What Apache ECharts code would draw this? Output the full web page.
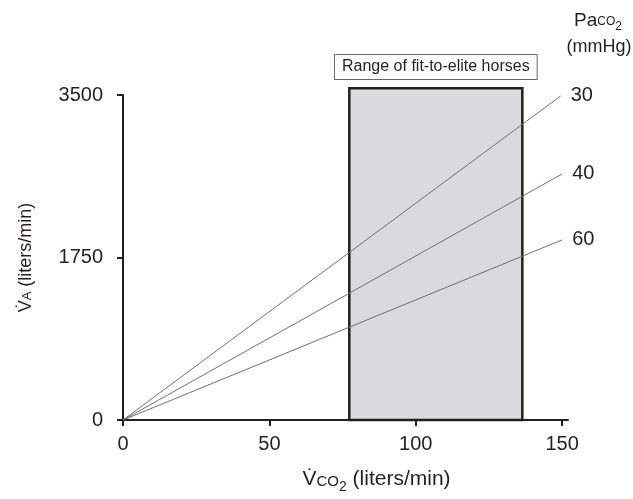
<!DOCTYPE html>
<html>
<head>
<meta charset="utf-8">
<script src="https://cdn.jsdelivr.net/npm/echarts@6/dist/echarts.min.js"></script>
<style>
  html, body { margin: 0; padding: 0; background: #fff; }
  #chart { width: 633px; height: 499px; }
</style>
</head>
<body>
<div id="chart"></div>
<script>
  // 刻度
  var xTicks = [0, 50, 100, 150];
  var yTicks = [0, 1750, 3500];
  // PaCO2 等值线 (mmHg) 和终点
  var pressures = ['30', '40', '60'];
  var lineEndX = [149.5, 150, 150];
  var lineEndY = [3490, 2650, 1940];
  // 矩形范围
  var rangeX = [77.3, 136.4];
  var rangeTop = 3572;
  var rangeLabel = 'Range of fit-to-elite horses';

  var ink = '#231f20';
  var chart = echarts.init(document.getElementById('chart'));

  var lineSeries = pressures.map(function (p, i) {
    return {
      name: p,
      type: 'line',
      z: 3,
      symbol: 'none',
      clip: false,
      data: [[0, 0], [lineEndX[i], lineEndY[i]]],
      lineStyle: { color: '#707070', width: 1 },
      endLabel: {
        show: true,
        formatter: '{a}',
        distance: 10,
        fontSize: 20,
        color: ink,
        fontFamily: 'Liberation Sans'
      }
    };
  });

  var option = {
    backgroundColor: '#fff',
    animation: false,
    textStyle: { fontFamily: 'Liberation Sans', color: ink },
    grid: { left: 123, right: 65, top: 95, bottom: 79 },
    xAxis: {
      type: 'value',
      min: 0,
      max: 152,
      splitLine: { show: false },
      axisLine: { lineStyle: { color: ink, width: 2 } },
      axisTick: { customValues: xTicks, length: 6, lineStyle: { color: ink, width: 2 } },
      axisLabel: { customValues: xTicks, fontSize: 20, color: ink, margin: 14, formatter: function (v) { return String(v); } },
      name: '{v|V\u0307}{s|CO}{sub|2}{n| (liters/min)}',
      nameLocation: 'middle',
      nameGap: 50,
      nameTextStyle: {
        padding: [0, 0, 0, 62],
        rich: {
          v: { fontSize: 21, color: ink, verticalAlign: 'bottom', lineHeight: 24, padding: [0, 0, 4, 0] },
          s: { fontSize: 15, color: ink, verticalAlign: 'bottom', lineHeight: 18, padding: [0, 0, 5, 0] },
          sub: { fontSize: 14, color: ink, verticalAlign: 'bottom', lineHeight: 16, padding: [0, 0, 0, 0] },
          n: { fontSize: 21, color: ink, verticalAlign: 'bottom', lineHeight: 24, padding: [0, 0, 4, 0] }
        }
      }
    },
    yAxis: {
      type: 'value',
      min: 0,
      max: 3500,
      splitLine: { show: false },
      axisLine: { lineStyle: { color: ink, width: 2 } },
      axisTick: { customValues: yTicks, length: 6, lineStyle: { color: ink, width: 2 } },
      axisLabel: { customValues: yTicks, fontSize: 20, color: ink, margin: 20, formatter: function (v) { return String(v); } },
      name: '{v|V\u0307}{s|A}{n| (liters/min)}',
      nameLocation: 'middle',
      nameRotate: 90,
      nameGap: 88,
      nameTextStyle: {
        rich: {
          v: { fontSize: 18, color: ink, verticalAlign: 'bottom', lineHeight: 21 },
          s: { fontSize: 13, color: ink, verticalAlign: 'bottom', lineHeight: 16, padding: [0, 0, 1, 0] },
          n: { fontSize: 18, color: ink, verticalAlign: 'bottom', lineHeight: 21 }
        }
      }
    },
    graphic: [
      {
        type: 'text',
        x: 598,
        y: 22,
        style: {
          text: '{p|Pa}{s|CO}{sub|2}',
          align: 'center',
          verticalAlign: 'middle',
          rich: {
            p: { fontSize: 19, fill: ink, fontFamily: 'Liberation Sans', verticalAlign: 'bottom', lineHeight: 22, padding: [0, 0, 3, 0] },
            s: { fontSize: 12, fill: ink, fontFamily: 'Liberation Sans', verticalAlign: 'bottom', lineHeight: 14, padding: [0, 0, 5, 0] },
            sub: { fontSize: 12, fill: ink, fontFamily: 'Liberation Sans', verticalAlign: 'bottom', lineHeight: 13 }
          }
        }
      },
      {
        type: 'text',
        x: 599,
        y: 47,
        style: { text: '(mmHg)', align: 'center', verticalAlign: 'middle', fontSize: 18, fill: ink, fontFamily: 'Liberation Sans' }
      }
    ],
    series: [
      {
        type: 'custom',
        z: 1,
        data: [[rangeX[0], rangeX[1], rangeTop]],
        encode: { x: [0, 1], y: 2 },
        renderItem: function (params, api) {
          var p0 = api.coord([api.value(0), 0]);
          var p1 = api.coord([api.value(1), api.value(2)]);
          return {
            type: 'rect',
            shape: { x: p0[0], y: p1[1], width: p1[0] - p0[0], height: p0[1] - p1[1] },
            style: { fill: '#d9dadc', stroke: ink, lineWidth: 2.5 },
            textContent: {
              style: {
                text: rangeLabel,
                fontSize: 16,
                fontFamily: 'Liberation Sans',
                fill: ink,
                backgroundColor: '#fff',
                borderColor: '#666',
                borderWidth: 1,
                padding: [4, 7]
              }
            },
            textConfig: { position: 'top', distance: 8 }
          };
        }
      }
    ].concat(lineSeries)
  };

  chart.setOption(option);
</script>
</body>
</html>
